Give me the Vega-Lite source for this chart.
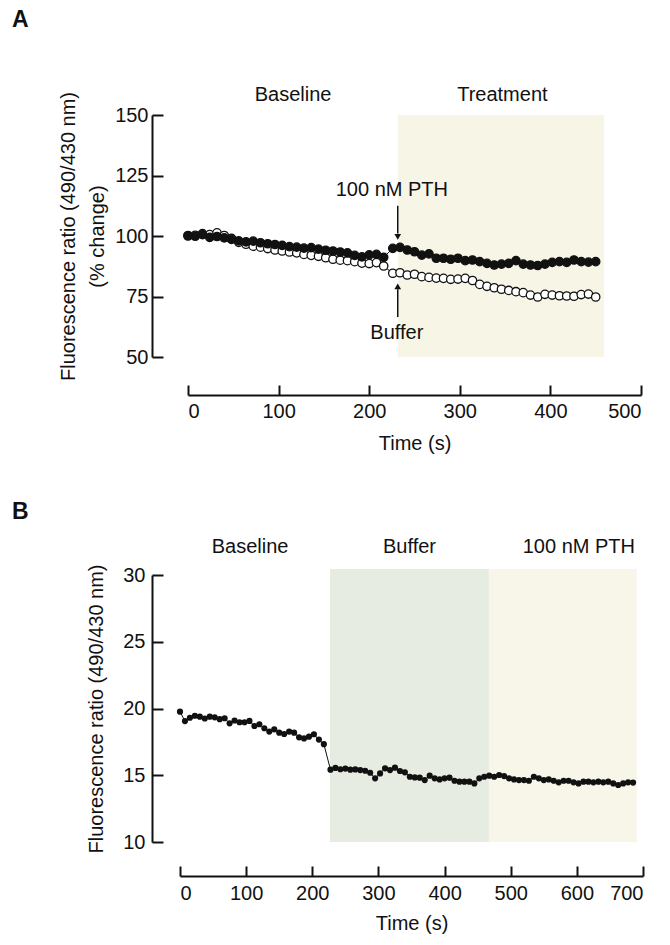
{
  "$schema": "https://vega.github.io/schema/vega-lite/v6.json",
  "padding": {"left": 12, "top": 8, "right": 5, "bottom": 5},
  "bounds": "flush",
  "spacing": 218,
  "config": {
    "view": {"stroke": null},
    "font": "Liberation Sans",
    "axis": {
      "grid": false,
      "domainColor": "#111111",
      "domainWidth": 2,
      "tickColor": "#111111",
      "tickWidth": 2,
      "labelFontSize": 20,
      "labelColor": "#111111",
      "titleFontSize": 20,
      "titleFontWeight": "normal",
      "titleColor": "#111111",
      "labelFont": "Liberation Sans",
      "titleFont": "Liberation Sans"
    },
    "text": {"font": "Liberation Sans", "fontSize": 20, "color": "#111111"}
  },
  "datasets": {
    "a": [
      {"t": 0, "v": 100.0, "series": "Buffer"}, {"t": 8, "v": 100.3, "series": "Buffer"}, {"t": 16, "v": 101.0, "series": "Buffer"}, {"t": 24, "v": 100.6, "series": "Buffer"}, {"t": 32, "v": 101.3, "series": "Buffer"}, {"t": 40, "v": 100.2, "series": "Buffer"}, {"t": 48, "v": 99.0, "series": "Buffer"}, {"t": 56, "v": 97.4, "series": "Buffer"}, {"t": 64, "v": 96.6, "series": "Buffer"}, {"t": 72, "v": 95.8, "series": "Buffer"}, {"t": 80, "v": 95.4, "series": "Buffer"}, {"t": 88, "v": 94.8, "series": "Buffer"}, {"t": 96, "v": 94.2, "series": "Buffer"}, {"t": 104, "v": 93.8, "series": "Buffer"}, {"t": 112, "v": 93.4, "series": "Buffer"}, {"t": 120, "v": 93.0, "series": "Buffer"}, {"t": 128, "v": 92.4, "series": "Buffer"}, {"t": 136, "v": 92.0, "series": "Buffer"}, {"t": 144, "v": 91.6, "series": "Buffer"}, {"t": 152, "v": 91.0, "series": "Buffer"}, {"t": 160, "v": 90.4, "series": "Buffer"}, {"t": 168, "v": 90.0, "series": "Buffer"}, {"t": 176, "v": 89.8, "series": "Buffer"}, {"t": 184, "v": 89.4, "series": "Buffer"}, {"t": 192, "v": 88.8, "series": "Buffer"}, {"t": 200, "v": 88.6, "series": "Buffer"}, {"t": 208, "v": 89.0, "series": "Buffer"}, {"t": 216, "v": 87.6, "series": "Buffer"},
      {"t": 226, "v": 84.6, "series": "Buffer"}, {"t": 234, "v": 84.8, "series": "Buffer"}, {"t": 242, "v": 83.9, "series": "Buffer"}, {"t": 250, "v": 84.2, "series": "Buffer"}, {"t": 258, "v": 83.2, "series": "Buffer"}, {"t": 266, "v": 82.9, "series": "Buffer"}, {"t": 274, "v": 82.6, "series": "Buffer"}, {"t": 282, "v": 82.5, "series": "Buffer"}, {"t": 290, "v": 82.1, "series": "Buffer"}, {"t": 298, "v": 82.2, "series": "Buffer"}, {"t": 306, "v": 82.5, "series": "Buffer"}, {"t": 314, "v": 81.6, "series": "Buffer"}, {"t": 322, "v": 80.0, "series": "Buffer"}, {"t": 330, "v": 79.2, "series": "Buffer"}, {"t": 338, "v": 78.6, "series": "Buffer"}, {"t": 346, "v": 78.0, "series": "Buffer"}, {"t": 354, "v": 77.5, "series": "Buffer"}, {"t": 362, "v": 77.0, "series": "Buffer"}, {"t": 370, "v": 76.6, "series": "Buffer"}, {"t": 378, "v": 75.6, "series": "Buffer"}, {"t": 386, "v": 74.8, "series": "Buffer"}, {"t": 394, "v": 75.9, "series": "Buffer"}, {"t": 402, "v": 75.6, "series": "Buffer"}, {"t": 410, "v": 75.3, "series": "Buffer"}, {"t": 418, "v": 75.2, "series": "Buffer"}, {"t": 426, "v": 75.1, "series": "Buffer"}, {"t": 434, "v": 75.8, "series": "Buffer"}, {"t": 442, "v": 76.0, "series": "Buffer"}, {"t": 450, "v": 74.8, "series": "Buffer"},
      {"t": 0, "v": 100.2, "series": "PTH"}, {"t": 8, "v": 99.9, "series": "PTH"}, {"t": 16, "v": 100.6, "series": "PTH"}, {"t": 24, "v": 99.4, "series": "PTH"}, {"t": 32, "v": 99.8, "series": "PTH"}, {"t": 40, "v": 99.2, "series": "PTH"}, {"t": 48, "v": 98.6, "series": "PTH"}, {"t": 56, "v": 98.0, "series": "PTH"}, {"t": 64, "v": 97.6, "series": "PTH"}, {"t": 72, "v": 97.9, "series": "PTH"}, {"t": 80, "v": 97.2, "series": "PTH"}, {"t": 88, "v": 96.8, "series": "PTH"}, {"t": 96, "v": 96.5, "series": "PTH"}, {"t": 104, "v": 96.1, "series": "PTH"}, {"t": 112, "v": 95.6, "series": "PTH"}, {"t": 120, "v": 95.4, "series": "PTH"}, {"t": 128, "v": 95.0, "series": "PTH"}, {"t": 136, "v": 95.2, "series": "PTH"}, {"t": 144, "v": 94.6, "series": "PTH"}, {"t": 152, "v": 94.1, "series": "PTH"}, {"t": 160, "v": 93.8, "series": "PTH"}, {"t": 168, "v": 93.4, "series": "PTH"}, {"t": 176, "v": 93.0, "series": "PTH"}, {"t": 184, "v": 92.0, "series": "PTH"}, {"t": 192, "v": 91.4, "series": "PTH"}, {"t": 200, "v": 92.2, "series": "PTH"}, {"t": 208, "v": 92.4, "series": "PTH"}, {"t": 216, "v": 91.2, "series": "PTH"},
      {"t": 226, "v": 94.9, "series": "PTH"}, {"t": 234, "v": 95.3, "series": "PTH"}, {"t": 242, "v": 94.2, "series": "PTH"}, {"t": 250, "v": 93.5, "series": "PTH"}, {"t": 258, "v": 92.1, "series": "PTH"}, {"t": 266, "v": 92.6, "series": "PTH"}, {"t": 274, "v": 90.8, "series": "PTH"}, {"t": 282, "v": 90.8, "series": "PTH"}, {"t": 290, "v": 90.4, "series": "PTH"}, {"t": 298, "v": 90.8, "series": "PTH"}, {"t": 306, "v": 89.8, "series": "PTH"}, {"t": 314, "v": 90.1, "series": "PTH"}, {"t": 322, "v": 89.4, "series": "PTH"}, {"t": 330, "v": 88.7, "series": "PTH"}, {"t": 338, "v": 88.0, "series": "PTH"}, {"t": 346, "v": 88.4, "series": "PTH"}, {"t": 354, "v": 88.7, "series": "PTH"}, {"t": 362, "v": 89.8, "series": "PTH"}, {"t": 370, "v": 88.4, "series": "PTH"}, {"t": 378, "v": 88.0, "series": "PTH"}, {"t": 386, "v": 87.8, "series": "PTH"}, {"t": 394, "v": 88.4, "series": "PTH"}, {"t": 402, "v": 89.1, "series": "PTH"}, {"t": 410, "v": 89.4, "series": "PTH"}, {"t": 418, "v": 89.1, "series": "PTH"}, {"t": 426, "v": 90.1, "series": "PTH"}, {"t": 434, "v": 89.4, "series": "PTH"}, {"t": 442, "v": 89.2, "series": "PTH"}, {"t": 450, "v": 89.4, "series": "PTH"}
    ],
    "b": [
      {"t": 0, "v": 19.76}, {"t": 7.5, "v": 19.06}, {"t": 15, "v": 19.31}, {"t": 22.5, "v": 19.46}, {"t": 30, "v": 19.39}, {"t": 37.5, "v": 19.25}, {"t": 45, "v": 19.39}, {"t": 52.5, "v": 19.34}, {"t": 60, "v": 19.2}, {"t": 67.5, "v": 19.27}, {"t": 75, "v": 18.89}, {"t": 82.5, "v": 19.1}, {"t": 90, "v": 18.97}, {"t": 97.5, "v": 18.97}, {"t": 105, "v": 19.07}, {"t": 112.5, "v": 18.69}, {"t": 120, "v": 18.82}, {"t": 127.5, "v": 18.52}, {"t": 135, "v": 18.27}, {"t": 142.5, "v": 18.44}, {"t": 150, "v": 18.19}, {"t": 157.5, "v": 18.09}, {"t": 165, "v": 18.27}, {"t": 172.5, "v": 18.19}, {"t": 180, "v": 17.84}, {"t": 187.5, "v": 17.76}, {"t": 195, "v": 17.89}, {"t": 202.5, "v": 18.07}, {"t": 210, "v": 17.67}, {"t": 217.5, "v": 17.33},
      {"t": 227.5, "v": 15.42}, {"t": 235, "v": 15.55}, {"t": 242.5, "v": 15.45}, {"t": 250, "v": 15.5}, {"t": 257.5, "v": 15.42}, {"t": 265, "v": 15.44}, {"t": 272.5, "v": 15.39}, {"t": 280, "v": 15.34}, {"t": 287.5, "v": 15.19}, {"t": 295, "v": 14.77}, {"t": 302.5, "v": 15.14}, {"t": 310, "v": 15.52}, {"t": 317.5, "v": 15.39}, {"t": 325, "v": 15.57}, {"t": 332.5, "v": 15.32}, {"t": 340, "v": 15.22}, {"t": 347.5, "v": 14.89}, {"t": 355, "v": 14.84}, {"t": 362.5, "v": 14.82}, {"t": 370, "v": 14.64}, {"t": 377.5, "v": 14.97}, {"t": 385, "v": 14.77}, {"t": 392.5, "v": 14.69}, {"t": 400, "v": 14.77}, {"t": 407.5, "v": 14.82}, {"t": 415, "v": 14.59}, {"t": 422.5, "v": 14.52}, {"t": 430, "v": 14.52}, {"t": 437.5, "v": 14.52}, {"t": 445, "v": 14.39}, {"t": 452.5, "v": 14.77}, {"t": 460, "v": 14.89}, {"t": 467.5, "v": 14.97}, {"t": 475, "v": 14.89}, {"t": 482.5, "v": 15.02}, {"t": 490, "v": 14.94}, {"t": 497.5, "v": 14.77}, {"t": 505, "v": 14.69}, {"t": 512.5, "v": 14.64}, {"t": 520, "v": 14.64}, {"t": 527.5, "v": 14.59}, {"t": 535, "v": 14.89}, {"t": 542.5, "v": 14.77}, {"t": 550, "v": 14.64}, {"t": 557.5, "v": 14.69}, {"t": 565, "v": 14.59}, {"t": 572.5, "v": 14.47}, {"t": 580, "v": 14.59}, {"t": 587.5, "v": 14.59}, {"t": 595, "v": 14.47}, {"t": 602.5, "v": 14.39}, {"t": 610, "v": 14.52}, {"t": 617.5, "v": 14.52}, {"t": 625, "v": 14.47}, {"t": 632.5, "v": 14.52}, {"t": 640, "v": 14.47}, {"t": 647.5, "v": 14.52}, {"t": 655, "v": 14.39}, {"t": 662.5, "v": 14.27}, {"t": 670, "v": 14.39}, {"t": 677.5, "v": 14.47}, {"t": 685, "v": 14.45}
    ]
  },
  "vconcat": [
    {
      "width": 461,
      "height": 242,
      "title": {"text": "A", "anchor": "start", "frame": "group", "fontSize": 23, "fontWeight": "bold", "font": "Liberation Sans", "color": "#111111", "dx": -168, "offset": 53},
      "data": {"name": "a"},
      "encoding": {
        "x": {"field": "t", "type": "quantitative", "scale": {"domain": [0, 500], "range": [8, 461], "nice": false, "zero": false},
          "axis": {"title": "Time (s)", "values": [0, 100, 200, 300, 400, 500], "offset": 38, "tickSize": -10, "labelPadding": 16, "titlePadding": 12}},
        "y": {"field": "v", "type": "quantitative", "scale": {"domain": [50, 150], "nice": false, "zero": false},
          "axis": {"title": ["Fluorescence ratio (490/430 nm)", "(% change)"], "titleLineHeight": 29, "values": [50, 75, 100, 125, 150], "offset": 28, "tickSize": -11, "labelPadding": 15, "titlePadding": 7}}
      },
      "layer": [
        {"data": {"values": [{"t": 231.7, "t2": 459, "v": 50, "v2": 150}]}, "mark": {"type": "rect", "color": "#f7f5e6"}, "encoding": {"x2": {"field": "t2"}, "y2": {"field": "v2"}}},
        {"mark": {"type": "line", "color": "#111111", "strokeWidth": 1}, "encoding": {"detail": {"field": "series"}}},
        {"mark": {"type": "point", "shape": "circle", "filled": true, "size": 70, "stroke": "#111111", "strokeWidth": 1.3, "opacity": 1},
          "encoding": {"fill": {"field": "series", "type": "nominal", "scale": {"domain": ["PTH", "Buffer"], "range": ["#111111", "#ffffff"]}, "legend": null}}},
        {"data": {"values": [{"t": 116, "v": 158.3, "label": "Baseline"}, {"t": 347, "v": 158.3, "label": "Treatment"}, {"t": 225, "v": 119, "label": "100 nM PTH"}, {"t": 230.5, "v": 60, "label": "Buffer"}]},
          "mark": {"type": "text", "align": "center", "baseline": "middle"}, "encoding": {"text": {"field": "label"}}},
        {"data": {"values": [{"t": 231.5, "v": 112.5, "v2": 101}, {"t": 231.5, "v": 66.5, "v2": 78}]},
          "mark": {"type": "rule", "color": "#111111", "strokeWidth": 1.5}, "encoding": {"y2": {"field": "v2"}}},
        {"data": {"values": [{"t": 231.5, "v": 99.6, "dir": "down"}, {"t": 231.5, "v": 79.2, "dir": "up"}]},
          "mark": {"type": "point", "filled": true, "size": 45, "color": "#111111", "opacity": 1},
          "encoding": {"shape": {"field": "dir", "type": "nominal", "scale": {"domain": ["down", "up"], "range": ["triangle-down", "triangle-up"]}, "legend": null}}}
      ]
    },
    {
      "width": 463,
      "height": 267,
      "title": {"text": "B", "anchor": "start", "frame": "group", "fontSize": 23, "fontWeight": "bold", "font": "Liberation Sans", "color": "#111111", "dx": -168, "offset": 13},
      "data": {"name": "b"},
      "encoding": {
        "x": {"field": "t", "type": "quantitative", "scale": {"domain": [0, 700], "nice": false, "zero": false},
          "axis": {"title": "Time (s)", "values": [0, 100, 200, 300, 400, 500, 600, 700], "offset": 34, "tickSize": -10, "labelPadding": 17, "titlePadding": 10}},
        "y": {"field": "v", "type": "quantitative", "scale": {"domain": [10, 30], "nice": false, "zero": false},
          "axis": {"title": "Fluorescence ratio (490/430 nm)", "values": [10, 15, 20, 25, 30], "offset": 28, "tickSize": -11, "labelPadding": 18, "titlePadding": 16}}
      },
      "layer": [
        {"data": {"values": [{"t": 226.8, "t2": 467, "v": 10, "v2": 30.45}]},
          "mark": {"type": "rect", "color": "#e6ece1"}, "encoding": {"x2": {"field": "t2"}, "y2": {"field": "v2"}}},
        {"data": {"values": [{"t": 467, "t2": 690.5, "v": 10, "v2": 30.45}]},
          "mark": {"type": "rect", "color": "#f8f6e8"}, "encoding": {"x2": {"field": "t2"}, "y2": {"field": "v2"}}},
        {"mark": {"type": "line", "color": "#111111", "strokeWidth": 1}},
        {"mark": {"type": "point", "shape": "circle", "filled": true, "size": 38, "color": "#111111", "opacity": 1}},
        {"data": {"values": [{"t": 106, "v": 32.1, "label": "Baseline"}, {"t": 347, "v": 32.1, "label": "Buffer"}, {"t": 603, "v": 32.1, "label": "100 nM PTH"}]},
          "mark": {"type": "text", "align": "center", "baseline": "middle"}, "encoding": {"text": {"field": "label"}}}
      ]
    }
  ]
}
